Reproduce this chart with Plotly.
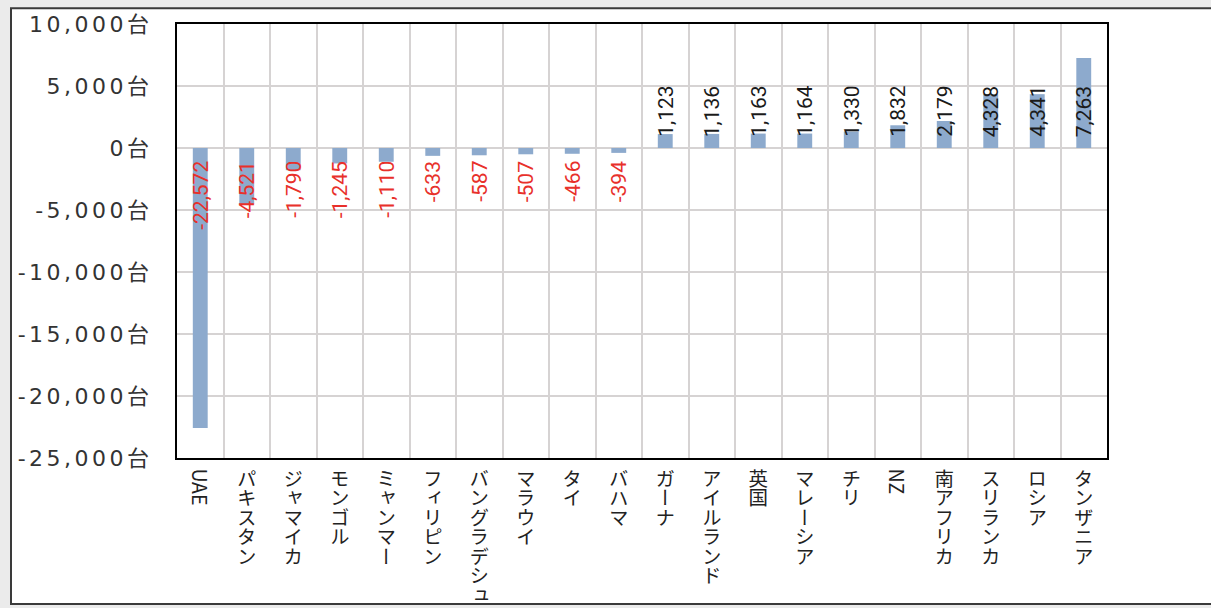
import plotly.graph_objects as go

countries = ["UAE", "パキスタン", "ジャマイカ", "モンゴル", "ミャンマー", "フィリピン",
             "バングラデシュ", "マラウイ", "タイ", "バハマ", "ガーナ", "アイルランド",
             "英国", "マレーシア", "チリ", "NZ", "南アフリカ", "スリランカ", "ロシア", "タンザニア"]
values = [-22572, -4521, -1790, -1245, -1110, -633, -587, -507, -466, -394,
          1123, 1136, 1163, 1164, 1330, 1832, 2179, 4328, 4341, 7263]
y_tickvals = [10000, 5000, 0, -5000, -10000, -15000, -20000, -25000]
y_ticktext = ["10,000台", "5,000台", "0台", "-5,000台", "-10,000台",
              "-15,000台", "-20,000台", "-25,000台"]

W, H = 1211, 608
L, R, T, B = 177, 104, 18, 150
pw, ph = W - L - R, H - T - B

def px2x(p):
    return (p - L) / pw

def py2y(p):
    return (H - B - p) / ph

fig = go.Figure()
fig.add_trace(go.Bar(x=countries, y=values, marker=dict(color="#8DAACD", line=dict(width=0)),
                     hoverinfo="x+y"))

for c, v in zip(countries, values):
    fig.add_annotation(
        x=c, y=0, xref="x", yref="y", text=f"{v:,}", showarrow=False, textangle=-90,
        yanchor="bottom" if v > 0 else "top",
        yshift=9 if v > 0 else -11,
        font=dict(family="Roboto, Liberation Sans, sans-serif", size=21,
                  color="#1a1a1a" if v > 0 else "#E8302A"),
    )

fig.update_layout(
    width=W, height=H,
    margin=dict(l=L, r=R, t=T, b=B),
    paper_bgcolor="#EBEBEB",
    plot_bgcolor="white",
    showlegend=False,
    bargap=0.68,
    shapes=[
        dict(type="rect", xref="paper", yref="paper", layer="below",
             x0=px2x(11), x1=px2x(1240), y0=py2y(606), y1=py2y(2),
             fillcolor="white", line=dict(color="#3a3a3a", width=2)),
    ],
)
fig.update_xaxes(
    type="category", tickson="boundaries", showgrid=True, gridcolor="#D6D3D3", gridwidth=1.5,
    showline=True, linecolor="black", linewidth=2, mirror=True, ticks="",
    tickangle=0, ticklabelstandoff=0,
    tickfont=dict(family="Noto Sans CJK JP, sans-serif", size=19.5, color="#222222"),
)
fig.update_yaxes(
    range=[-25000, 10000], tickvals=y_tickvals, ticktext=y_ticktext,
    showgrid=True, gridcolor="#D6D3D3", gridwidth=1.5,
    zeroline=True, zerolinecolor="#D6D3D3", zerolinewidth=1.5,
    showline=True, linecolor="black", linewidth=2, mirror=True, ticks="",
    ticklabelstandoff=18,
    tickfont=dict(family="DejaVu Sans, Noto Sans CJK JP, sans-serif", size=22, color="#333333"),
)

post = """
document.body.style.margin = '0';
document.body.style.overflow = 'hidden';
var s = document.createElement('style');
s.textContent = '.xtick text { writing-mode: vertical-rl; text-anchor: start; translate: 0px -15px; }'
  + ' .ytick text { letter-spacing: 3.5px; }';
document.head.appendChild(s);
"""
fig.write_html("out.html", post_script=post, config={"displayModeBar": False})
